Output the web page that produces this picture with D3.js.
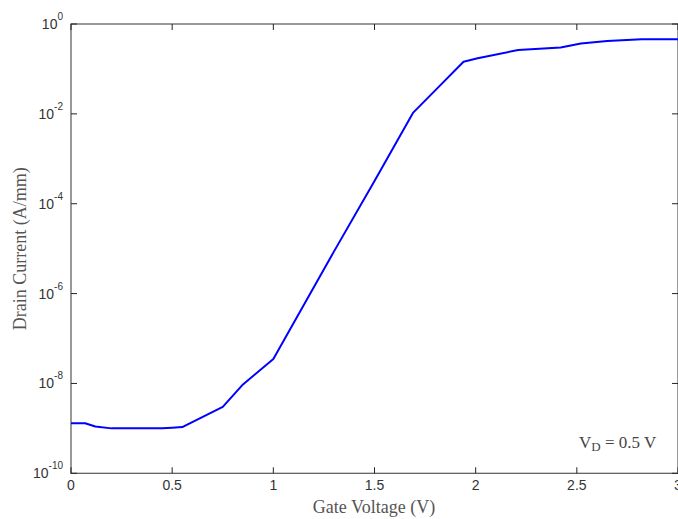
<!DOCTYPE html>
<html lang="en">
<head>
<meta charset="UTF-8">
<title>Drain Current vs Gate Voltage</title>
<script src="https://d3js.org/d3.v7.min.js"></script>
<style>
    body { margin: 0; background: #fff; }
    .tick-label { font-family: Arial, "Liberation Sans", sans-serif; fill: #333; }
    .axis-title { font-family: "Times New Roman", "Liberation Serif", serif; fill: #555; }
</style>
</head>
<body>
<div id="chart"></div>
<script>
    // gate voltage (V) and drain current (A/mm)
    const gateVoltage = [0, 0.07, 0.12, 0.2, 0.45, 0.5, 0.55, 0.75, 0.85, 1.0, 1.3, 1.5, 1.69, 1.81, 1.94, 2.01, 2.21, 2.42, 2.52, 2.65, 2.82, 3.0];
    const drainCurrent = [1.3e-9, 1.3e-9, 1.1e-9, 1.0e-9, 1.0e-9, 1.03e-9, 1.07e-9, 3.0e-9, 9.5e-9, 3.5e-8, 8.7e-6, 3.2e-4, 1.05e-2, 3.7e-2, 0.145, 0.172, 0.264, 0.30, 0.37, 0.42, 0.457, 0.46];
    const xTicks = [0, 0.5, 1, 1.5, 2, 2.5, 3];
    const yExponents = [0, -2, -4, -6, -8, -10];

    const W = 678, H = 519;
    const margin = {top: 24, right: 0, bottom: 46, left: 71};
    const x0 = margin.left, x1 = 678, y0 = margin.top, y1 = H - margin.bottom + 0.3;

    const svg = d3.select("#chart").append("svg")
        .attr("width", W)
        .attr("height", H);

    const x = d3.scaleLinear().domain([0, 3]).range([x0, x1]);
    const y = d3.scaleLog().domain([1e-10, 1]).range([y1, y0]);

    const tickLen = 6;
    const axisColor = "#555";

    // frame
    svg.append("rect")
        .attr("x", x0).attr("y", y0)
        .attr("width", x1 - x0).attr("height", y1 - y0)
        .attr("fill", "none").attr("stroke", axisColor).attr("stroke-width", 1.2);

    // x ticks (bottom and top, inward)
    const xt = svg.append("g");
    xTicks.forEach(t => {
        xt.append("line").attr("x1", x(t)).attr("x2", x(t))
            .attr("y1", y1).attr("y2", y1 - tickLen).attr("stroke", "#222");
        xt.append("line").attr("x1", x(t)).attr("x2", x(t))
            .attr("y1", y0).attr("y2", y0 + tickLen).attr("stroke", "#222");
        xt.append("text").attr("class", "tick-label")
            .attr("x", x(t)).attr("y", y1 + 17)
            .attr("text-anchor", "middle")
            .attr("font-size", 14)
            .text(t);
    });

    // y ticks (left and right, inward)
    const yt = svg.append("g");
    yExponents.forEach(e => {
        const v = Math.pow(10, e);
        yt.append("line").attr("x1", x0).attr("x2", x0 + tickLen)
            .attr("y1", y(v)).attr("y2", y(v)).attr("stroke", "#222");
        yt.append("line").attr("x1", x1).attr("x2", x1 - tickLen)
            .attr("y1", y(v)).attr("y2", y(v)).attr("stroke", "#222");
        const txt = yt.append("text").attr("class", "tick-label")
            .attr("x", x0 - 8).attr("y", y(v) + 5)
            .attr("text-anchor", "end")
            .attr("font-size", 14);
        txt.append("tspan").text("10");
        txt.append("tspan").attr("font-size", 10).attr("dy", -9).text(e);
    });

    // curve
    const pts = gateVoltage.map((g, i) => [g, drainCurrent[i]]);
    svg.append("path")
        .datum(pts)
        .attr("fill", "none")
        .attr("stroke", "#0000ff")
        .attr("stroke-width", 2)
        .attr("stroke-linejoin", "round")
        .attr("d", d3.line().x(d => x(d[0])).y(d => y(d[1])));

    // axis titles
    svg.append("text").attr("class", "axis-title")
        .attr("x", (x0 + 677) / 2 + 0).attr("y", 513)
        .attr("text-anchor", "middle")
        .attr("font-size", 18)
        .text("Gate Voltage (V)");

    svg.append("text").attr("class", "axis-title")
        .attr("transform", "translate(26," + ((y0 + y1) / 2) + ") rotate(-90)")
        .attr("text-anchor", "middle")
        .attr("font-size", 18)
        .text("Drain Current (A/mm)");

    // annotation
    const ann = svg.append("text").attr("class", "axis-title")
        .attr("x", 579).attr("y", 448)
        .attr("font-size", 17)
        .style("fill", "#444");
    ann.append("tspan").text("V");
    ann.append("tspan").attr("font-size", 13).attr("dy", 3).text("D");
    ann.append("tspan").attr("dy", -3).text(" = 0.5 V");
</script>
</body>
</html>
